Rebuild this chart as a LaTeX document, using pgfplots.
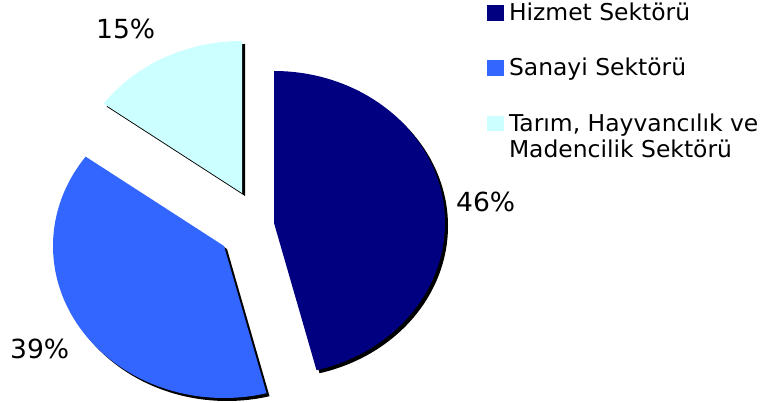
\documentclass[border=0pt]{standalone}
\usepackage{fontspec}
\setmainfont{DejaVu Sans}
\usepackage{pgfplots}
\usepackage{pgfplotstable}
\pgfplotsset{compat=1.18}
\definecolor{hizmet}{RGB}{0,0,128}
\definecolor{sanayi}{RGB}{51,102,255}
\definecolor{tarim}{RGB}{204,255,255}

% share (%), centre of each exploded slice (x, y)
\pgfplotstableread{
value cx cy
46 274 180
39 224 157
15 242 210
}\piedata

\pgfplotstablegetelem{0}{value}\of\piedata \edef\vH{\pgfplotsretval}
\pgfplotstablegetelem{1}{value}\of\piedata \edef\vS{\pgfplotsretval}
\pgfplotstablegetelem{2}{value}\of\piedata \edef\vT{\pgfplotsretval}
\pgfplotstablegetelem{0}{cx}\of\piedata \edef\cxH{\pgfplotsretval}
\pgfplotstablegetelem{0}{cy}\of\piedata \edef\cyH{\pgfplotsretval}
\pgfplotstablegetelem{1}{cx}\of\piedata \edef\cxS{\pgfplotsretval}
\pgfplotstablegetelem{1}{cy}\of\piedata \edef\cyS{\pgfplotsretval}
\pgfplotstablegetelem{2}{cx}\of\piedata \edef\cxT{\pgfplotsretval}
\pgfplotstablegetelem{2}{cy}\of\piedata \edef\cyT{\pgfplotsretval}

\pgfmathsetmacro\aHs{90-3.6*\vH}
\pgfmathsetmacro\aHe{90}
\pgfmathsetmacro\aTs{90}
\pgfmathsetmacro\aTe{90+3.6*\vT}
\pgfmathsetmacro\aSs{\aTe}
\pgfmathsetmacro\aSe{\aTe+3.6*\vS}
\pgfmathsetmacro\sxH{\cxH+3}\pgfmathsetmacro\syH{\cyH-3}
\pgfmathsetmacro\sxS{\cxS+3}\pgfmathsetmacro\syS{\cyS-3}
\pgfmathsetmacro\sxT{\cxT+3}\pgfmathsetmacro\syT{\cyT-3}
\def\rx{171}
\def\ry{152}

\newfontfamily\legfam[FakeStretch=1.01]{DejaVu Sans}
\newcommand\legfont{\legfam\fontsize{23.2bp}{26bp}\selectfont}
\newcommand\pctfont{\legfam\fontsize{26.3bp}{30bp}\selectfont}

\begin{document}
\begin{tikzpicture}
\begin{axis}[
  width=764bp, height=403bp, scale only axis,
  xmin=0, xmax=764, ymin=0, ymax=403,
  hide axis, clip=false,
  legend style={at={(axis cs:487,399.3)}, anchor=north west, draw=none, fill=none,
    inner sep=0pt, outer sep=0pt, row sep=33.3bp, column sep=5bp, font=\legfont,
    cells={anchor=base west},
    nodes={inner sep=0pt, outer sep=0pt, text height=17bp, text depth=5bp, font=\legfont}},
  legend image code/.code={\fill[#1] (0bp,0bp) rectangle (17bp,15.5bp);},
]
% shadows
\addplot[fill=black, draw=none, forget plot, domain=\aHs:\aHe, samples=150, variable=\t]
  ({\sxH+\rx*cos(\t)}, {\syH+\ry*sin(\t)}) -- (axis cs:\sxH,\syH) -- cycle;
\addplot[fill=black, draw=none, forget plot, domain=\aSs:\aSe, samples=150, variable=\t]
  ({\sxS+\rx*cos(\t)}, {\syS+\ry*sin(\t)}) -- (axis cs:\sxS,\syS) -- cycle;
\addplot[fill=black, draw=none, forget plot, domain=\aTs:\aTe, samples=80, variable=\t]
  ({\sxT+\rx*cos(\t)}, {\syT+\ry*sin(\t)}) -- (axis cs:\sxT,\syT) -- cycle;
% slices
\addplot[fill=hizmet, draw=none, domain=\aHs:\aHe, samples=150, variable=\t]
  ({\cxH+\rx*cos(\t)}, {\cyH+\ry*sin(\t)}) -- (axis cs:\cxH,\cyH) -- cycle;
\addlegendentry{Hizmet Sektörü}
\addplot[fill=sanayi, draw=none, domain=\aSs:\aSe, samples=150, variable=\t]
  ({\cxS+\rx*cos(\t)}, {\cyS+\ry*sin(\t)}) -- (axis cs:\cxS,\cyS) -- cycle;
\addlegendentry{Sanayi Sektörü}
\addplot[fill=tarim, draw=none, domain=\aTs:\aTe, samples=80, variable=\t]
  ({\cxT+\rx*cos(\t)}, {\cyT+\ry*sin(\t)}) -- (axis cs:\cxT,\cyT) -- cycle;
\addlegendentry{\begin{tabular}[t]{@{}l@{}}Tarım, Hayvancılık ve\\Madencilik Sektörü\end{tabular}}
% percentage labels
\node[anchor=base west, font=\pctfont, inner sep=0pt] at (axis cs:96,364) {15\%};
\node[anchor=base west, font=\pctfont, inner sep=0pt] at (axis cs:456,191) {46\%};
\node[anchor=base west, font=\pctfont, inner sep=0pt] at (axis cs:10,44) {39\%};
\end{axis}
\pgfresetboundingbox
\path[use as bounding box] (current axis.south west) rectangle (current axis.north east);
\end{tikzpicture}
\end{document}
